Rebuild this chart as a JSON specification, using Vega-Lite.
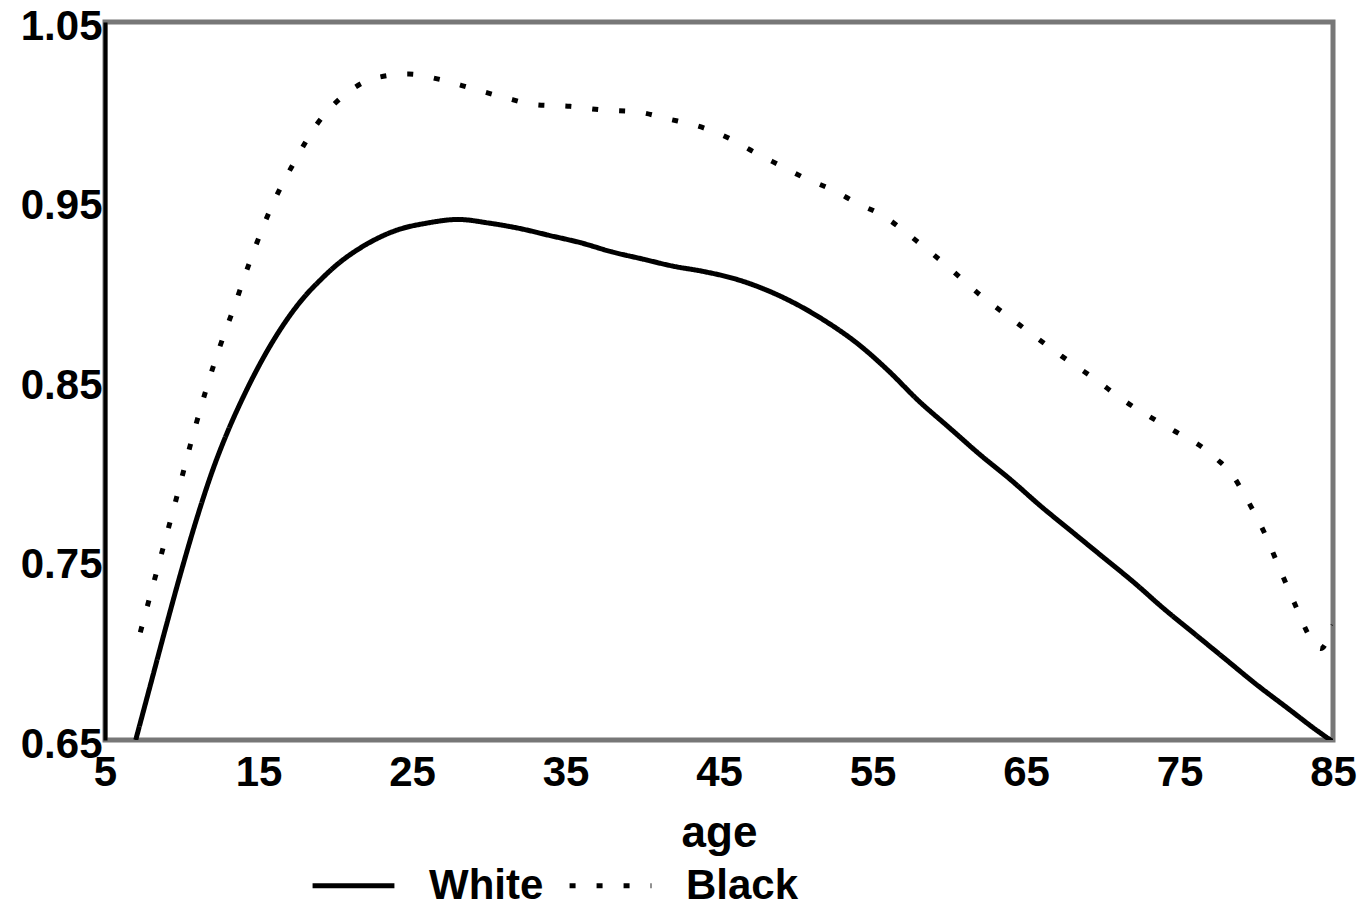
{
  "$schema": "https://vega.github.io/schema/vega-lite/v6.json",
  "width": 1228,
  "height": 718,
  "autosize": {"type": "none"},
  "padding": {"left": 105, "top": 22, "right": 30, "bottom": 171},
  "background": "white",
  "config": {
    "view": {"stroke": "#777777", "strokeWidth": 5},
    "font": "Liberation Sans",
    "axis": {"grid": false, "ticks": false, "labelFont": "Liberation Sans", "labelFontSize": 42, "labelFontWeight": "bold", "labelColor": "black", "titleFont": "Liberation Sans", "titleFontSize": 44, "titleFontWeight": "bold", "titleColor": "black"},
    "legend": {"labelFont": "Liberation Sans", "labelFontSize": 42, "labelFontWeight": "bold", "labelColor": "black"}
  },
  "data": {"values": [
    {"age": 7, "value": 0.650, "race": "White"},
    {"age": 8, "value": 0.682, "race": "White"},
    {"age": 9, "value": 0.714, "race": "White"},
    {"age": 10, "value": 0.745, "race": "White"},
    {"age": 11, "value": 0.774, "race": "White"},
    {"age": 12, "value": 0.800, "race": "White"},
    {"age": 13, "value": 0.822, "race": "White"},
    {"age": 14, "value": 0.841, "race": "White"},
    {"age": 15, "value": 0.858, "race": "White"},
    {"age": 16, "value": 0.873, "race": "White"},
    {"age": 17, "value": 0.886, "race": "White"},
    {"age": 18, "value": 0.897, "race": "White"},
    {"age": 19, "value": 0.906, "race": "White"},
    {"age": 20, "value": 0.914, "race": "White"},
    {"age": 22, "value": 0.926, "race": "White"},
    {"age": 24, "value": 0.934, "race": "White"},
    {"age": 26, "value": 0.938, "race": "White"},
    {"age": 28, "value": 0.940, "race": "White"},
    {"age": 30, "value": 0.938, "race": "White"},
    {"age": 32, "value": 0.935, "race": "White"},
    {"age": 34, "value": 0.931, "race": "White"},
    {"age": 36, "value": 0.927, "race": "White"},
    {"age": 38, "value": 0.922, "race": "White"},
    {"age": 40, "value": 0.918, "race": "White"},
    {"age": 42, "value": 0.914, "race": "White"},
    {"age": 44, "value": 0.911, "race": "White"},
    {"age": 46, "value": 0.907, "race": "White"},
    {"age": 48, "value": 0.901, "race": "White"},
    {"age": 50, "value": 0.893, "race": "White"},
    {"age": 52, "value": 0.883, "race": "White"},
    {"age": 54, "value": 0.871, "race": "White"},
    {"age": 56, "value": 0.856, "race": "White"},
    {"age": 58, "value": 0.839, "race": "White"},
    {"age": 60, "value": 0.824, "race": "White"},
    {"age": 62, "value": 0.809, "race": "White"},
    {"age": 64, "value": 0.795, "race": "White"},
    {"age": 66, "value": 0.780, "race": "White"},
    {"age": 68, "value": 0.766, "race": "White"},
    {"age": 70, "value": 0.752, "race": "White"},
    {"age": 72, "value": 0.738, "race": "White"},
    {"age": 74, "value": 0.723, "race": "White"},
    {"age": 76, "value": 0.709, "race": "White"},
    {"age": 78, "value": 0.695, "race": "White"},
    {"age": 80, "value": 0.681, "race": "White"},
    {"age": 82, "value": 0.668, "race": "White"},
    {"age": 84, "value": 0.655, "race": "White"},
    {"age": 85, "value": 0.649, "race": "White"},
    {"age": 7.3, "value": 0.710, "race": "Black"},
    {"age": 8.5, "value": 0.748, "race": "Black"},
    {"age": 9.6, "value": 0.783, "race": "Black"},
    {"age": 10.9, "value": 0.825, "race": "Black"},
    {"age": 12.2, "value": 0.862, "race": "Black"},
    {"age": 13.4, "value": 0.891, "race": "Black"},
    {"age": 14.5, "value": 0.918, "race": "Black"},
    {"age": 16, "value": 0.950, "race": "Black"},
    {"age": 17.4, "value": 0.973, "race": "Black"},
    {"age": 18.8, "value": 0.993, "race": "Black"},
    {"age": 19.9, "value": 1.004, "race": "Black"},
    {"age": 21, "value": 1.012, "race": "Black"},
    {"age": 22.7, "value": 1.019, "race": "Black"},
    {"age": 24.8, "value": 1.021, "race": "Black"},
    {"age": 26.8, "value": 1.018, "race": "Black"},
    {"age": 28.9, "value": 1.013, "race": "Black"},
    {"age": 31, "value": 1.008, "race": "Black"},
    {"age": 33, "value": 1.004, "race": "Black"},
    {"age": 35.3, "value": 1.003, "race": "Black"},
    {"age": 37.4, "value": 1.001, "race": "Black"},
    {"age": 39.6, "value": 1.000, "race": "Black"},
    {"age": 41.7, "value": 0.996, "race": "Black"},
    {"age": 44, "value": 0.991, "race": "Black"},
    {"age": 45.7, "value": 0.985, "race": "Black"},
    {"age": 47.4, "value": 0.977, "race": "Black"},
    {"age": 49, "value": 0.970, "race": "Black"},
    {"age": 50.6, "value": 0.963, "race": "Black"},
    {"age": 52.5, "value": 0.956, "race": "Black"},
    {"age": 54, "value": 0.949, "race": "Black"},
    {"age": 55.7, "value": 0.942, "race": "Black"},
    {"age": 57, "value": 0.934, "race": "Black"},
    {"age": 58.3, "value": 0.925, "race": "Black"},
    {"age": 59.6, "value": 0.916, "race": "Black"},
    {"age": 62, "value": 0.898, "race": "Black"},
    {"age": 64, "value": 0.885, "race": "Black"},
    {"age": 67.3, "value": 0.864, "race": "Black"},
    {"age": 69.5, "value": 0.851, "race": "Black"},
    {"age": 71.4, "value": 0.839, "race": "Black"},
    {"age": 74.7, "value": 0.822, "race": "Black"},
    {"age": 76.5, "value": 0.813, "race": "Black"},
    {"age": 77.5, "value": 0.806, "race": "Black"},
    {"age": 78.5, "value": 0.797, "race": "Black"},
    {"age": 79.2, "value": 0.787, "race": "Black"},
    {"age": 80.5, "value": 0.766, "race": "Black"},
    {"age": 81.5, "value": 0.746, "race": "Black"},
    {"age": 82.5, "value": 0.726, "race": "Black"},
    {"age": 83.6, "value": 0.706, "race": "Black"},
    {"age": 84.2, "value": 0.701, "race": "Black"},
    {"age": 85, "value": 0.714, "race": "Black"}
  ]},
  "mark": {"type": "line", "interpolate": "monotone", "color": "black", "strokeWidth": 5, "clip": true},
  "encoding": {
    "x": {"field": "age", "type": "quantitative", "title": "age",
      "scale": {"domain": [5, 85], "nice": false, "zero": false},
      "axis": {"values": [5, 15, 25, 35, 45, 55, 65, 75, 85], "domain": false, "labelPadding": 12, "labelFlush": false, "titleY": 106, "titleBaseline": "alphabetic"}},
    "y": {"field": "value", "type": "quantitative", "title": null,
      "scale": {"domain": [0.65, 1.05], "nice": false, "zero": false},
      "axis": {"values": [0.65, 0.75, 0.85, 0.95, 1.05], "format": ".2f", "domainColor": "black", "domainWidth": 4, "labelPadding": 3, "labelOffset": 4, "labelFlush": false}},
    "strokeDash": {"field": "race", "type": "nominal",
      "scale": {"domain": ["White", "Black"], "range": [[1, 0], [6, 21]]},
      "legend": {"title": null, "orient": "none", "direction": "horizontal", "legendX": 205, "legendY": 820, "symbolType": "stroke", "symbolSize": 6700, "symbolStrokeWidth": 5, "symbolStrokeColor": "black", "labelOffset": 32, "columnPadding": 15}}
  }
}
